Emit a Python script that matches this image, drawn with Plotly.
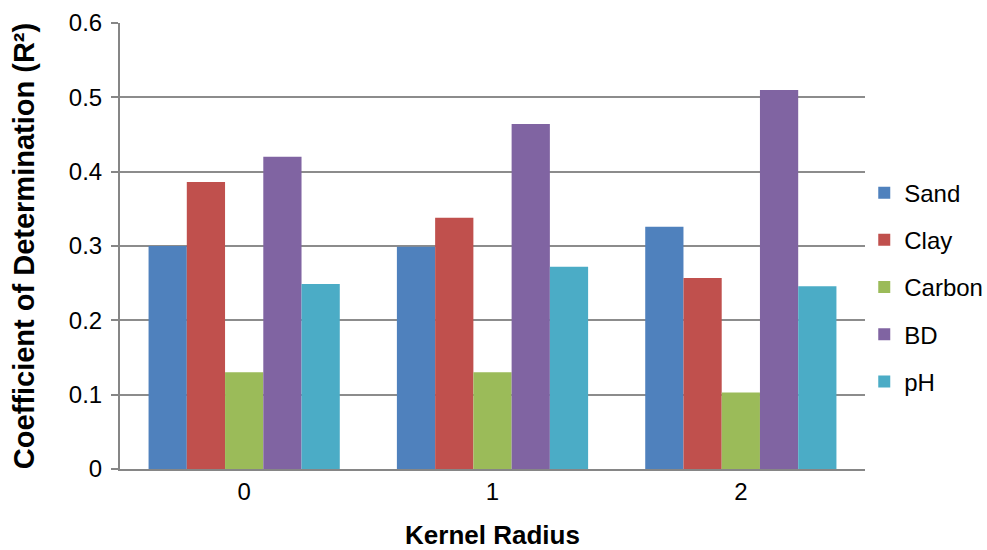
import plotly.graph_objects as go

categories = ["0", "1", "2"]
series_names = ["Sand", "Clay", "Carbon", "BD", "pH"]
sand = [0.300, 0.299, 0.326]
clay = [0.386, 0.338, 0.257]
carbon = [0.130, 0.130, 0.103]
bd = [0.420, 0.464, 0.510]
ph = [0.249, 0.272, 0.246]
y_ticks = [0, 0.1, 0.2, 0.3, 0.4, 0.5, 0.6]
y_tick_labels = ["0", "0.1", "0.2", "0.3", "0.4", "0.5", "0.6"]

colors = ["#4F81BD", "#C0504D", "#9BBB59", "#8064A2", "#4BACC6"]
values = [sand, clay, carbon, bd, ph]

fig = go.Figure()
for name, vals, col in zip(series_names, values, colors):
    fig.add_trace(go.Bar(
        x=categories, y=vals, name=name, legendgroup=name,
        marker=dict(color=col, line=dict(width=0)),
    ))

font_family = "Liberation Sans, Arial, sans-serif"
fig.update_layout(
    width=987, height=550,
    margin=dict(l=120, r=122, t=23, b=81, autoexpand=False),
    paper_bgcolor="white", plot_bgcolor="white",
    barmode="group", bargap=0.23, bargroupgap=0,
    font=dict(family=font_family, size=25, color="black"),
    showlegend=True,
    legend=dict(x=0.999, xanchor="left", y=0.408, yanchor="middle",
                font=dict(size=24), tracegroupgap=13, itemwidth=30,
                bgcolor="rgba(0,0,0,0)"),
    xaxis=dict(
        type="category", showline=True, linecolor="#868686", linewidth=2,
        ticks="", tickfont=dict(size=24), showgrid=False,
        title=dict(text="<b>Kernel Radius</b>", font=dict(size=26), standoff=26),
    ),
    yaxis=dict(
        range=[0, 0.6], tickvals=y_ticks, ticktext=y_tick_labels,
        showline=True, linecolor="#868686", linewidth=2,
        ticks="outside", ticklen=7, tickcolor="#868686", tickwidth=2,
        showgrid=True, gridcolor="#8c8c8c", gridwidth=2,
        zeroline=False, tickfont=dict(size=24), ticklabelstandoff=4,
        title=dict(text="<b>Coefficient of Determination (R²)</b>", font=dict(size=29), standoff=26),
    ),
)

fig.write_html("out.html")
